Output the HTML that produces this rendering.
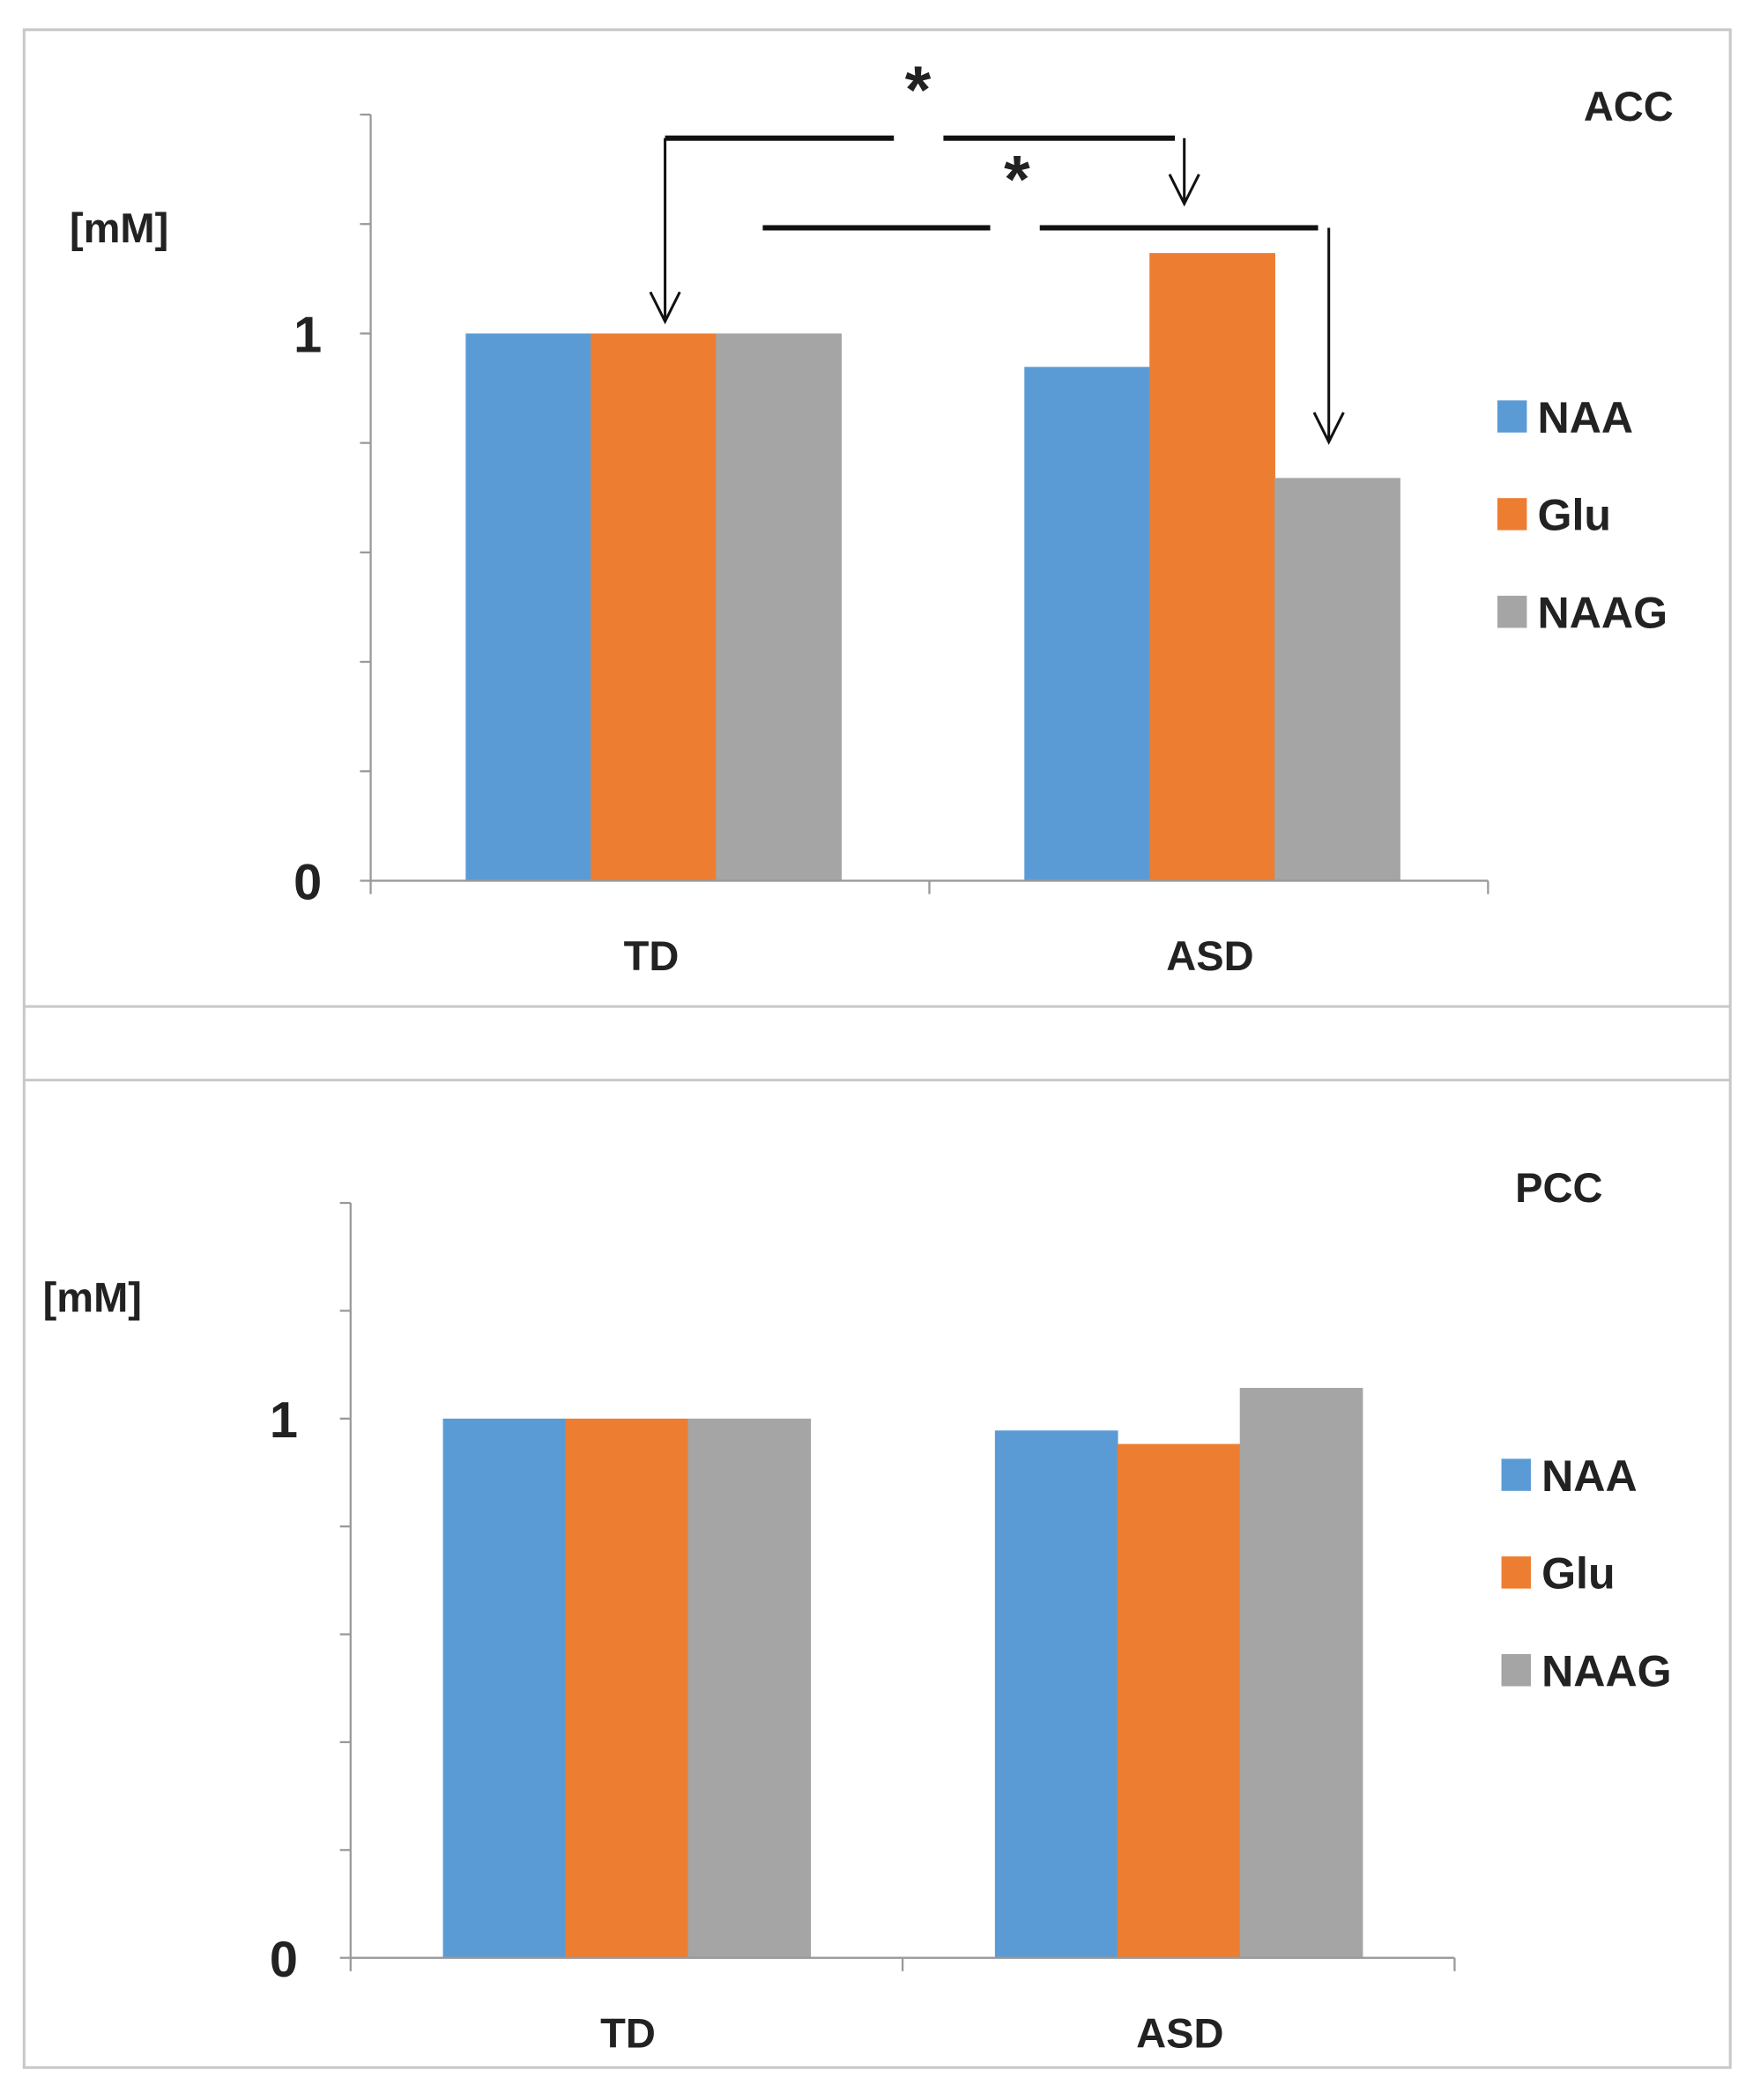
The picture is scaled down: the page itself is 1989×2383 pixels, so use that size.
<!DOCTYPE html>
<html><head><meta charset="utf-8"><style>
html,body{margin:0;padding:0;background:#fff;}
svg{display:block;}
text{font-family:"Liberation Sans",sans-serif;font-weight:bold;fill:#222;}
</style></head><body>
<svg id="fig" width="1989" height="2383" viewBox="0 0 1310 1569" xmlns="http://www.w3.org/2000/svg">
<rect x="18" y="22" width="1275" height="1523" fill="none" stroke="#c8c8c8" stroke-width="2"/>
<line x1="18" x2="1293" y1="752" y2="752" stroke="#c8c8c8" stroke-width="2"/>
<line x1="18" x2="1293" y1="807" y2="807" stroke="#c8c8c8" stroke-width="2"/>
<g id="acc"></g>
<g id="pcc"></g>
<g stroke="#111" fill="none">
  <path d="M497 103 H668 M705 103 H878" stroke-width="4"/>
  <path d="M497 103 V240 M486 218 L497 240 L508 218" stroke-width="2"/>
  <path d="M885 103 V152 M874 130 L885 152 L896 130" stroke-width="2"/>
  <path d="M570 170 H740 M777 170 H985" stroke-width="4"/>
  <path d="M993 170 V330 M982 308 L993 330 L1004 308" stroke-width="2"/>
</g>
<text x="686" y="84" font-size="50" text-anchor="middle">*</text>
<text x="760" y="151" font-size="50" text-anchor="middle">*</text>
</svg>
<script>
const categories = ["TD", "ASD"];
const seriesNames = ["NAA", "Glu", "NAAG"];
const colors = ["#5b9bd5", "#ed7d31", "#a5a5a5"];
const accNAA = [1.0, 0.939];
const accGlu = [1.0, 1.147];
const accNAAG = [1.0, 0.736];
const pccNAA = [1.0, 0.978];
const pccGlu = [1.0, 0.953];
const pccNAAG = [1.0, 1.057];
const yTickLabels = ["0", "1"];
const yMax = 1.4;
const yMinorStep = 0.2;

const NS = "http://www.w3.org/2000/svg";
function mk(parent, tag, attrs) {
  const e = document.createElementNS(NS, tag);
  for (const k in attrs) e.setAttribute(k, attrs[k]);
  parent.appendChild(e);
  return e;
}
function drawChart(gid, L, series, title) {
  const g = document.getElementById(gid);
  const y = v => L.y0 - (v / 1) * (L.y0 - L.y1);
  const catW = (L.xR - L.xL) / categories.length;
  const x = (ci, si) => L.xL + ci * catW + L.gOff + si * L.barW;
  const ax = mk(g, "line", {x1: L.xL, x2: L.xL, y1: y(0), y2: y(yMax), stroke: "#999", "stroke-width": 1.5});
  
  
  for (let v = 0; v <= yMax + 1e-6; v += yMinorStep) {
    const t = mk(g, "line", {x1: L.xL - 8, x2: L.xL, y1: y(v), y2: y(v), stroke: "#999", "stroke-width": 1.5});
    
    
  }
  yTickLabels.forEach((lab, i) => {
    const t = mk(g, "text", {x: L.labX, y: y(+lab) + 14, "font-size": 38, "text-anchor": "middle"});
    t.textContent = lab;
    
    
  });
  categories.forEach((c, ci) => {
    series.forEach((s, si) => {
      const r = mk(g, "rect", {x: x(ci, si), y: y(s[ci]), width: L.barW + 0.5, height: y(0) - y(s[ci]), fill: colors[si]});
      
      
    });
    const t = mk(g, "text", {x: L.xL + ci * catW + catW / 2 + 1, y: L.y0 + 67, "font-size": 31, "text-anchor": "middle"});
    t.textContent = c;
    
    
  });
  const xa = mk(g, "line", {x1: L.xL, x2: L.xR, y1: y(0), y2: y(0), stroke: "#999", "stroke-width": 1.5});
  
  
  for (let i = 0; i <= categories.length; i++) {
    const t = mk(g, "line", {x1: L.xL + i * catW, x2: L.xL + i * catW, y1: y(0), y2: y(0) + 10, stroke: "#999", "stroke-width": 1.5});
    
    
  }
  const u = mk(g, "text", {x: L.unitX, y: L.unitY, "font-size": 31});
  u.textContent = "[mM]";
  
  
  const tt = mk(g, "text", {x: L.titleX, y: L.titleY, "font-size": 31, "text-anchor": "middle"});
  tt.textContent = title;
  
  
  seriesNames.forEach((n, i) => {
    const ly = L.legY + i * 73;
    const sq = mk(g, "rect", {x: L.legX, y: ly - 12, width: 22, height: 24, fill: colors[i]});
    
    
    const lt = mk(g, "text", {x: L.legX + 30, y: ly + 12, "font-size": 33});
    lt.textContent = n;
    
    
  });
}
drawChart("acc", {xL: 277, xR: 1112, y0: 658, y1: 249, gOff: 71, barW: 93.5, labX: 230, unitX: 52, unitY: 181, titleX: 1217, titleY: 90, legX: 1119, legY: 311}, [accNAA, accGlu, accNAAG], "ACC");
drawChart("pcc", {xL: 262, xR: 1087, y0: 1463, y1: 1060, gOff: 69, barW: 91.5, labX: 212, unitX: 32, unitY: 980, titleX: 1165, titleY: 898, legX: 1122, legY: 1102}, [pccNAA, pccGlu, pccNAAG], "PCC");
</script>
</body></html>
